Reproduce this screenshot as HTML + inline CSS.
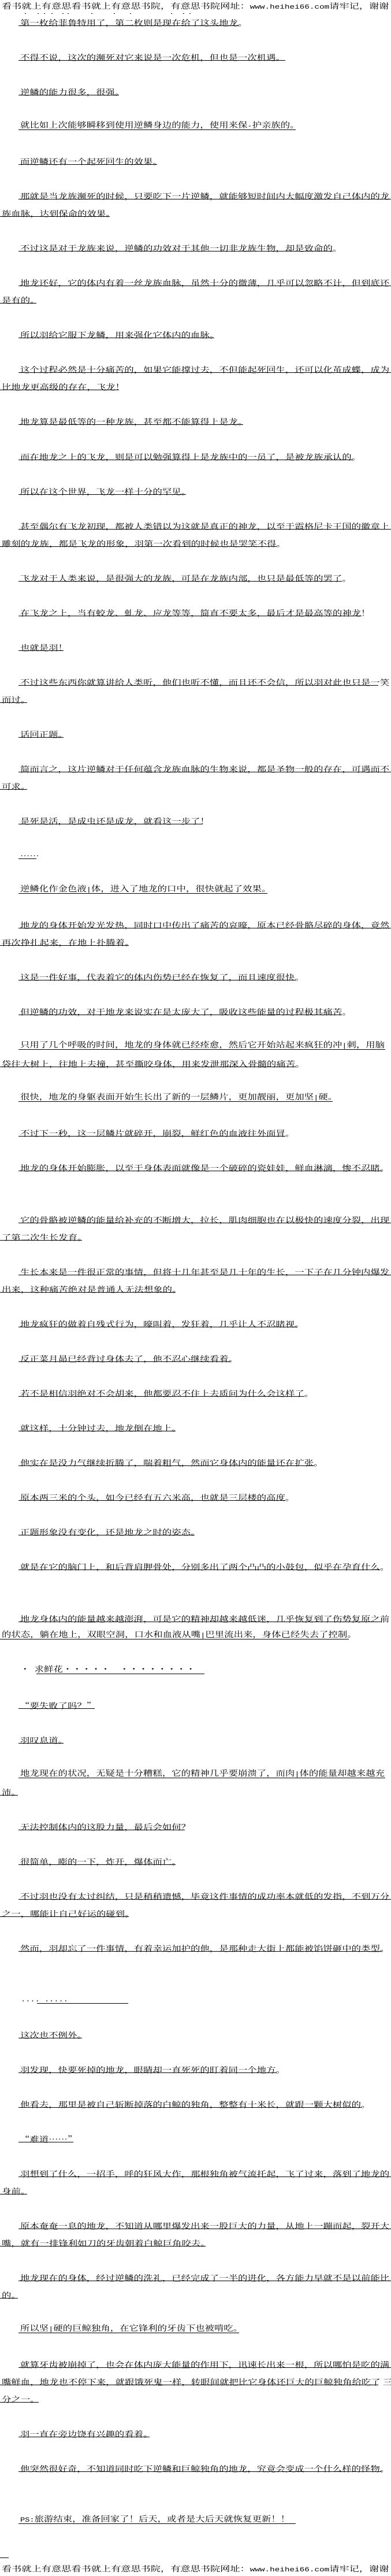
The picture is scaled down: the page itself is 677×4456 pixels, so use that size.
<!DOCTYPE html>
<html lang="zh-CN">
<head>
<meta charset="utf-8">
<title>正文</title>
<style>
html,body{margin:0;padding:0;background:#fff}
body{position:relative;width:677px;height:4456px;overflow:hidden;color:#000;font-family:"Liberation Serif","Noto Serif CJK SC",serif}
p{position:absolute;left:0;margin:0;height:0;border-top:1px solid #000}
p.i{left:32px}
p b{position:absolute;left:3px;bottom:0;font-weight:400;font-size:16.4px;line-height:1;white-space:nowrap;font-family:"Noto Serif CJK SC",serif;transform:scaleY(.82);transform-origin:0 100%}
i{font-style:normal;font-family:"Liberation Mono",monospace;font-size:13.67px}
.h{position:absolute;left:3px;font-size:17.2px;line-height:1;white-space:nowrap;font-family:"Noto Serif CJK SC",serif;transform:scaleY(.76);transform-origin:0 100%}
.h i{font-size:14.33px}
.d{position:absolute;top:23px;height:1px;width:2px;background:#000}
</style>
</head>
<body>
<div class="h" style="top:-2px">看书就上有意思看书就上有意思书院，有意思书院网址：<i>www.heihei66.com</i>请牢记，谢谢</div>
<span class="d" style="left:43px"></span><span class="d" style="left:65px"></span><span class="d" style="left:76px"></span><span class="d" style="left:89px"></span><span class="d" style="left:108px"></span><span class="d" style="left:117px"></span><span class="d" style="left:158px"></span><span class="d" style="left:197px"></span><span class="d" style="left:225px"></span><span class="d" style="left:296px"></span><span class="d" style="left:317px"></span><span class="d" style="left:328px"></span>

<p class="i" style="top:44px;width:382px"><b>第一枚给菲鲁特用了，第二枚则是现在给了这头地龙。</b></p>
<p class="i" style="top:104px;width:462px"><b>不得不说，这次的濒死对它来说是一次危机，但也是一次机遇。</b></p>
<p class="i" style="top:164px;width:174px"><b>逆鳞的能力很多，很强。</b></p>
<p class="i" style="top:224px;width:480px"><b>就比如上次能够瞬移到使用逆鳞身边的能力，使用来保<i>-</i>护亲族的。</b></p>
<p class="i" style="top:284px;width:240px"><b>而逆鳞还有一个起死回生的效果。</b></p>
<p class="i" style="top:344px;width:645px"><b>那就是当龙族濒死的时候，只要吃下一片逆鳞，就能够短时间内大幅度激发自己体内的龙</b></p>
<p style="top:374px;width:190px"><b>族血脉，达到保命的效果。</b></p>
<p class="i" style="top:434px;width:544px"><b>不过这是对于龙族来说，逆鳞的功效对于其他一切非龙族生物，却是致命的。</b></p>
<p class="i" style="top:494px;width:645px"><b>地龙还好，它的体内有着一丝龙族血脉，虽然十分的微薄，几乎可以忽略不计，但到底还</b></p>
<p style="top:524px;width:63px"><b>是有的。</b></p>
<p class="i" style="top:584px;width:339px"><b>所以羽给它服下龙鳞，用来强化它体内的血脉。</b></p>
<p class="i" style="top:644px;width:645px"><b>这个过程必然是十分痛苦的，如果它能撑过去，不但能起死回生，还可以化茧成蝶，成为</b></p>
<p style="top:674px;width:206px"><b>比地龙更高级的存在，飞龙！</b></p>
<p class="i" style="top:734px;width:389px"><b>地龙算是最低等的一种龙族，甚至都不能算得上是龙。</b></p>
<p class="i" style="top:795px;width:579px"><b>而在地龙之上的飞龙，则是可以勉强算得上是龙族中的一员了，是被龙族承认的。</b></p>
<p class="i" style="top:855px;width:290px"><b>所以在这个世界，飞龙一样十分的罕见。</b></p>
<p class="i" style="top:915px;width:645px"><b>甚至偶尔有飞龙初现，都被人类错以为这就是真正的神龙，以至于霞格尼卡王国的徽章上</b></p>
<p style="top:945px;width:479px"><b>雕刻的龙族，都是飞龙的形象，羽第一次看到的时候也是哭笑不得。</b></p>
<p class="i" style="top:1005px;width:560px"><b>飞龙对于人类来说，是很强大的龙族，可是在龙族内部，也只是最低等的罢了。</b></p>
<p class="i" style="top:1065px;width:594px"><b>在飞龙之上，当有蛟龙、虬龙、应龙等等，简直不要太多，最后才是最高等的神龙！</b></p>
<p class="i" style="top:1125px;width:78px"><b>也就是羽！</b></p>
<p class="i" style="top:1185px;width:623px"><b>不过这些东西你就算讲给人类听，他们也听不懂，而且还不会信，所以羽对此也只是一笑</b></p>
<p style="top:1215px;width:47px"><b>而过。</b></p>
<p class="i" style="top:1275px;width:78px"><b>话回正题。</b></p>
<p class="i" style="top:1335px;width:645px"><b>简而言之，这片逆鳞对于任何蕴含龙族血脉的生物来说，都是圣物一般的存在，可遇而不</b></p>
<p style="top:1365px;width:47px"><b>可求。</b></p>
<p class="i" style="top:1425px;width:319px"><b>是死是活，是成虫还是成龙，就看这一步了！</b></p>
<p class="i" style="top:1485px;width:31px"><b>……</b></p>
<p class="i" style="top:1545px;width:431px"><b>逆鳞化作金色液<i>|</i>体，进入了地龙的口中，很快就起了效果。</b></p>
<p class="i" style="top:1605px;width:645px"><b>地龙的身体开始发光发热，同时口中传出了痛苦的哀嚎，原本已经骨骼尽碎的身体，竟然</b></p>
<p style="top:1635px;width:223px"><b>再次挣扎起来，在地上扑腾着。</b></p>
<p class="i" style="top:1695px;width:480px"><b>这是一件好事，代表着它的体内伤势已经在恢复了，而且速度很快。</b></p>
<p class="i" style="top:1755px;width:560px"><b>但逆鳞的功效，对于地龙来说实在是太庞大了，吸收这些能量的过程极其痛苦。</b></p>
<p class="i" style="top:1815px;width:635px"><b>只用了几个呼吸的时间，地龙的身体就已经痊愈，然后它开始站起来疯狂的冲<i>|</i>刺，用脑</b></p>
<p style="top:1845px;width:512px"><b>袋往大树上，往地上去撞，甚至撕咬身体，用来发泄那深入骨髓的痛苦。</b></p>
<p class="i" style="top:1905px;width:544px"><b>很快，地龙的身躯表面开始生长出了新的一层鳞片，更加靓丽，更加坚<i>|</i>硬。</b></p>
<p class="i" style="top:1965px;width:462px"><b>不过下一秒，这一层鳞片就碎开，崩裂，鲜红色的血液往外面冒。</b></p>
<p class="i" style="top:2025px;width:629px"><b>地龙的身体开始膨胀，以至于身体表面就像是一个破碎的瓷娃娃，鲜血淋漓，惨不忍睹。</b></p>
<p class="i" style="top:2115px;width:645px"><b>它的骨骼被逆鳞的能量给补充的不断增大，拉长，肌肉细胞也在以极快的速度分裂，出现</b></p>
<p style="top:2145px;width:142px"><b>了第二次生长发育。</b></p>
<p class="i" style="top:2205px;width:645px"><b>生长本来是一件很正常的事情，但将十几年甚至是几十年的生长，一下子在几分钟内爆发</b></p>
<p style="top:2235px;width:304px"><b>出来，这种痛苦绝对是普通人无法想象的。</b></p>
<p class="i" style="top:2295px;width:482px"><b>地龙疯狂的做着自残式行为，嚎叫着，发狂着，几乎让人不忍睹视。</b></p>
<p class="i" style="top:2355px;width:367px"><b>反正菜月昴已经背过身体去了，他不忍心继续看着。</b></p>
<p class="i" style="top:2415px;width:495px"><b>若不是相信羽绝对不会胡来，他都要忍不住上去质问为什么会这样了。</b></p>
<p class="i" style="top:2475px;width:272px"><b>就这样，十分钟过去，地龙倒在地上。</b></p>
<p class="i" style="top:2535px;width:512px"><b>他实在是没力气继续折腾了，喘着粗气，然而它身体内的能量还在扩张。</b></p>
<p class="i" style="top:2595px;width:462px"><b>原本两三米的个头，如今已经有五六米高，也就是三层楼的高度。</b></p>
<p class="i" style="top:2655px;width:305px"><b>正题形象没有变化，还是地龙之时的姿态。</b></p>
<p class="i" style="top:2715px;width:626px"><b>就是在它的脑门上，和后背肩胛骨处，分别多出了两个凸凸的小鼓包，似乎在孕育什么。</b></p>
<p class="i" style="top:2805px;width:629px"><b>地龙身体内的能量越来越澎湃，可是它的精神却越来越低迷，几乎恢复到了伤势复原之前</b></p>
<p style="top:2835px;width:604px"><b>的状态，躺在地上，双眼空洞，口水和血液从嘴<i>|</i>巴里流出来，身体已经失去了控制。</b></p>
<p style="left:63px;top:2895px;width:291px"><b style="left:-28px">・<i> </i>求鲜花・・・・・　・・・・・・・・</b></p>
<p class="i" style="top:2955px;width:132px"><b>“要失败了吗？”</b></p>
<p class="i" style="top:3015px;width:78px"><b>羽叹息道。</b></p>
<p class="i" style="top:3075px;width:635px"><b>地龙现在的状况，无疑是十分糟糕，它的精神几乎要崩溃了，而肉<i>|</i>体的能量却越来越充</b></p>
<p style="top:3105px;width:31px"><b>沛。</b></p>
<p class="i" style="top:3165px;width:288px"><b>无法控制体内的这股力量，最后会如何？</b></p>
<p class="i" style="top:3225px;width:272px"><b>很简单，嘭的一下，炸开，爆体而亡。</b></p>
<p class="i" style="top:3285px;width:645px"><b>不过羽也没有太过纠结，只是稍稍遗憾，毕竟这件事情的成功率本就低的发指，不到万分</b></p>
<p style="top:3315px;width:223px"><b>之一，哪能让自己好运的碰到。</b></p>
<p class="i" style="top:3375px;width:629px"><b>然而，羽却忘了一件事情，有着幸运加护的他，是那种走大街上都能被馅饼砸中的类型。</b></p>
<p style="left:64px;top:3465px;width:158px"><b style="left:-28px"><i>.... .....</i></b></p>
<p class="i" style="top:3525px;width:110px"><b>这次也不例外。</b></p>
<p class="i" style="top:3585px;width:447px"><b>羽发现，快要死掉的地龙，眼睛却一直死死的盯着同一个地方。</b></p>
<p class="i" style="top:3645px;width:594px"><b>他看去，那里是被自己斩断掉落的白鲸的独角，整整有十米长，就跟一颗大树似的。</b></p>
<p class="i" style="top:3705px;width:95px"><b>“难道……”</b></p>
<p class="i" style="top:3765px;width:645px"><b>羽想到了什么，一招手，呼的狂风大作，那根独角被气流托起，飞了过来，落到了地龙的</b></p>
<p style="top:3795px;width:47px"><b>身前。</b></p>
<p class="i" style="top:3855px;width:645px"><b>原本奄奄一息的地龙，不知道从哪里爆发出来一股巨大的力量，从地上一蹦而起，裂开大</b></p>
<p style="top:3885px;width:356px"><b>嘴，就有一排锋利如刀的牙齿朝着白鲸巨角咬去。</b></p>
<p class="i" style="top:3945px;width:645px"><b>地龙现在的身体，经过逆鳞的洗礼，已经完成了一半的进化，各方能力早就不是以前能比</b></p>
<p style="top:3975px;width:31px"><b>的。</b></p>
<p class="i" style="top:4035px;width:382px"><b>所以坚<i>|</i>硬的巨鲸独角，在它锋利的牙齿下也被啃吃。</b></p>
<p class="i" style="top:4095px;width:645px"><b>就算牙齿被崩掉了，也会在体内庞大能量的作用下，迅速长出来一根，所以哪怕是吃的满</b></p>
<p style="top:4125px;width:655px"><b>嘴鲜血，地龙也不停下来，就跟饿死鬼一样，转眼间就把比它身体还巨大的巨鲸独角给吃了 三</b></p>
<p style="top:4155px;width:67px"><b>分之一。</b></p>
<p class="i" style="top:4215px;width:227px"><b>羽一直在旁边饶有兴趣的看着。</b></p>
<p class="i" style="top:4275px;width:629px"><b>他突然很好奇，不知道同时吃下逆鳞和巨鲸独角的地龙，究竟会变成一个什么样的怪物。</b></p>
<p class="i" style="top:4365px;width:480px"><b><i>PS:</i>旅游结束，准备回家了！后天，或者是大后天就恢复更新！！</b></p>
<p style="top:4424px;width:15px"></p>
<div class="h" style="top:4431px">看书就上有意思看书就上有意思书院，有意思书院网址：<i>www.heihei66.com</i>请牢记，谢谢</div>
</body>
</html>
